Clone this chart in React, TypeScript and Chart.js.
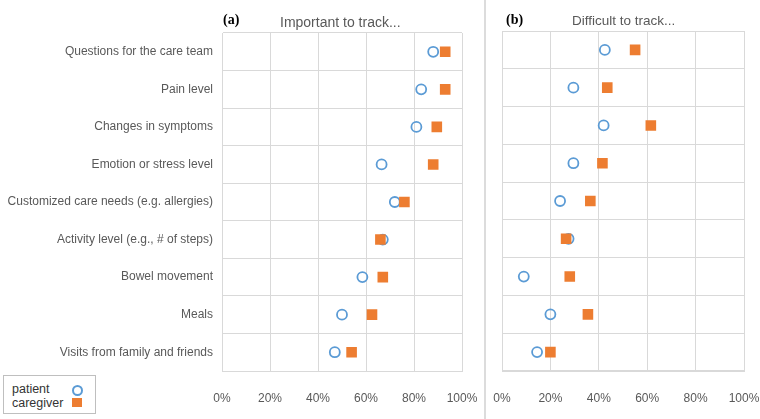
import React, { useEffect, useRef } from "react";
import { Chart, registerables } from "chart.js";
Chart.register(...registerables);

const categories = [
  "Questions for the care team",
  "Pain level",
  "Changes in symptoms",
  "Emotion or stress level",
  "Customized care needs (e.g. allergies)",
  "Activity level (e.g., # of steps)",
  "Bowel movement",
  "Meals",
  "Visits from family and friends",
];
const importantPatient = [88, 83, 81, 66.5, 72, 67, 58.5, 50, 47];
const importantCaregiver = [93, 93, 89.5, 88, 76, 66, 67, 62.5, 54];
const difficultPatient = [42.5, 29.5, 42, 29.5, 24, 27.5, 9, 20, 14.5];
const difficultCaregiver = [55, 43.5, 61.5, 41.5, 36.5, 26.5, 28, 35.5, 20];
const seriesNames = ["patient", "caregiver"];
const panelTitles = ["Important to track...", "Difficult to track..."];
const panelTags = ["(a)", "(b)"];

const FONT = "'Liberation Sans', Arial, sans-serif";
const GRID = "#d9d9d9";
const TXT = "#595959";
const BLUE = "#5B9BD5";
const ORANGE = "#ED7D31";

type PanelProps = {
  left: number;
  width: number;
  height: number;
  top: number;
  padLeft: number;
  padRight: number;
  yWidth: number;
  showLabels: boolean;
  patient: number[];
  caregiver: number[];
};

function Panel(p: PanelProps) {
  const ref = useRef<HTMLCanvasElement>(null);
  useEffect(() => {
    const chart = new Chart(ref.current as HTMLCanvasElement, {
      type: "scatter",
      data: {
        datasets: [
          {
            label: seriesNames[0],
            data: categories.map((c, i) => ({ x: p.patient[i], y: c })) as any,
            pointStyle: "circle",
            pointRadius: 5,
            pointHoverRadius: 5,
            backgroundColor: "rgba(255,255,255,0)",
            borderColor: BLUE,
            borderWidth: 1.8,
            order: 1,
          },
          {
            label: seriesNames[1],
            data: categories.map((c, i) => ({ x: p.caregiver[i], y: c })) as any,
            pointStyle: "rect",
            pointRadius: 7.5,
            pointHoverRadius: 7.5,
            backgroundColor: ORANGE,
            borderColor: ORANGE,
            borderWidth: 0,
            order: 0,
          },
        ],
      },
      options: {
        responsive: false,
        animation: false,
        devicePixelRatio: 1,
        layout: { padding: { left: p.padLeft, right: p.padRight, top: p.top, bottom: 0 } },
        plugins: { legend: { display: false }, tooltip: { enabled: false } },
        scales: {
          x: {
            type: "linear",
            min: 0,
            max: 100,
            ticks: {
              stepSize: 20,
              callback: (v: any) => v + "%",
              color: TXT,
              font: { family: FONT, size: 12 },
              padding: 20,
              maxRotation: 0,
            },
            grid: { color: GRID, drawTicks: false },
            border: { color: GRID },
            afterFit: (s: any) => {
              s.height = 48;
              s.paddingLeft = 0;
              s.paddingRight = 0;
            },
          },
          y: {
            type: "category",
            labels: categories,
            offset: true,
            grid: { offset: true, color: GRID, drawTicks: false },
            border: { color: GRID },
            ticks: {
              display: p.showLabels,
              color: TXT,
              font: { family: FONT, size: 12 },
              padding: 9,
            },
            afterFit: (s: any) => {
              s.width = p.yWidth;
              s.paddingTop = 0;
              s.paddingBottom = 0;
            },
          },
        },
      },
    } as any);
    return () => chart.destroy();
  }, []);
  return (
    <canvas
      ref={ref}
      width={p.width}
      height={p.height}
      style={{ position: "absolute", left: p.left, top: 0, width: p.width, height: p.height }}
    />
  );
}

export default function App() {
  return (
    <div
      style={{
        position: "absolute",
        left: 0,
        top: 0,
        width: 760,
        height: 419,
        background: "#fff",
        overflow: "hidden",
        fontFamily: FONT,
      }}
    >
      <Panel
        left={0}
        width={480}
        height={419}
        top={33}
        padLeft={0}
        padRight={18}
        yWidth={222}
        showLabels={true}
        patient={importantPatient}
        caregiver={importantCaregiver}
      />
      <Panel
        left={486}
        width={274}
        height={419}
        top={31}
        padLeft={16}
        padRight={16}
        yWidth={0}
        showLabels={false}
        patient={difficultPatient}
        caregiver={difficultCaregiver}
      />
      <div style={{ position: "absolute", left: 484, top: 0, width: 2, height: 419, background: "#dcdcdc" }} />
      <div
        style={{
          position: "absolute",
          left: 223,
          top: 13,
          fontFamily: "'Liberation Serif', 'Times New Roman', serif",
          fontWeight: "bold",
          fontSize: 14,
          lineHeight: "14px",
          color: "#000",
        }}
      >
        {panelTags[0]}
      </div>
      <div style={{ position: "absolute", left: 280, top: 15, fontSize: 14, lineHeight: "14px", color: TXT, whiteSpace: "nowrap" }}>
        {panelTitles[0]}
      </div>
      <div
        style={{
          position: "absolute",
          left: 506,
          top: 13,
          fontFamily: "'Liberation Serif', 'Times New Roman', serif",
          fontWeight: "bold",
          fontSize: 14,
          lineHeight: "14px",
          color: "#000",
        }}
      >
        {panelTags[1]}
      </div>
      <div style={{ position: "absolute", left: 572, top: 14, fontSize: 13.5, lineHeight: "14px", color: TXT, whiteSpace: "nowrap" }}>
        {panelTitles[1]}
      </div>
      <div
        style={{
          position: "absolute",
          left: 3,
          top: 375,
          width: 91,
          height: 37,
          border: "1px solid #bfbfbf",
          background: "#fff",
        }}
      >
        <div style={{ position: "absolute", left: 8, top: 6, fontSize: 12.5, lineHeight: "14px", color: "#333" }}>{seriesNames[0]}</div>
        <div style={{ position: "absolute", left: 8, top: 20, fontSize: 12.5, lineHeight: "14px", color: "#333" }}>{seriesNames[1]}</div>
        <div
          style={{
            position: "absolute",
            left: 68,
            top: 9,
            width: 7,
            height: 7,
            borderRadius: "50%",
            border: `2px solid ${BLUE}`,
          }}
        />
        <div style={{ position: "absolute", left: 68, top: 22, width: 10, height: 9, background: ORANGE }} />
      </div>
    </div>
  );
}
